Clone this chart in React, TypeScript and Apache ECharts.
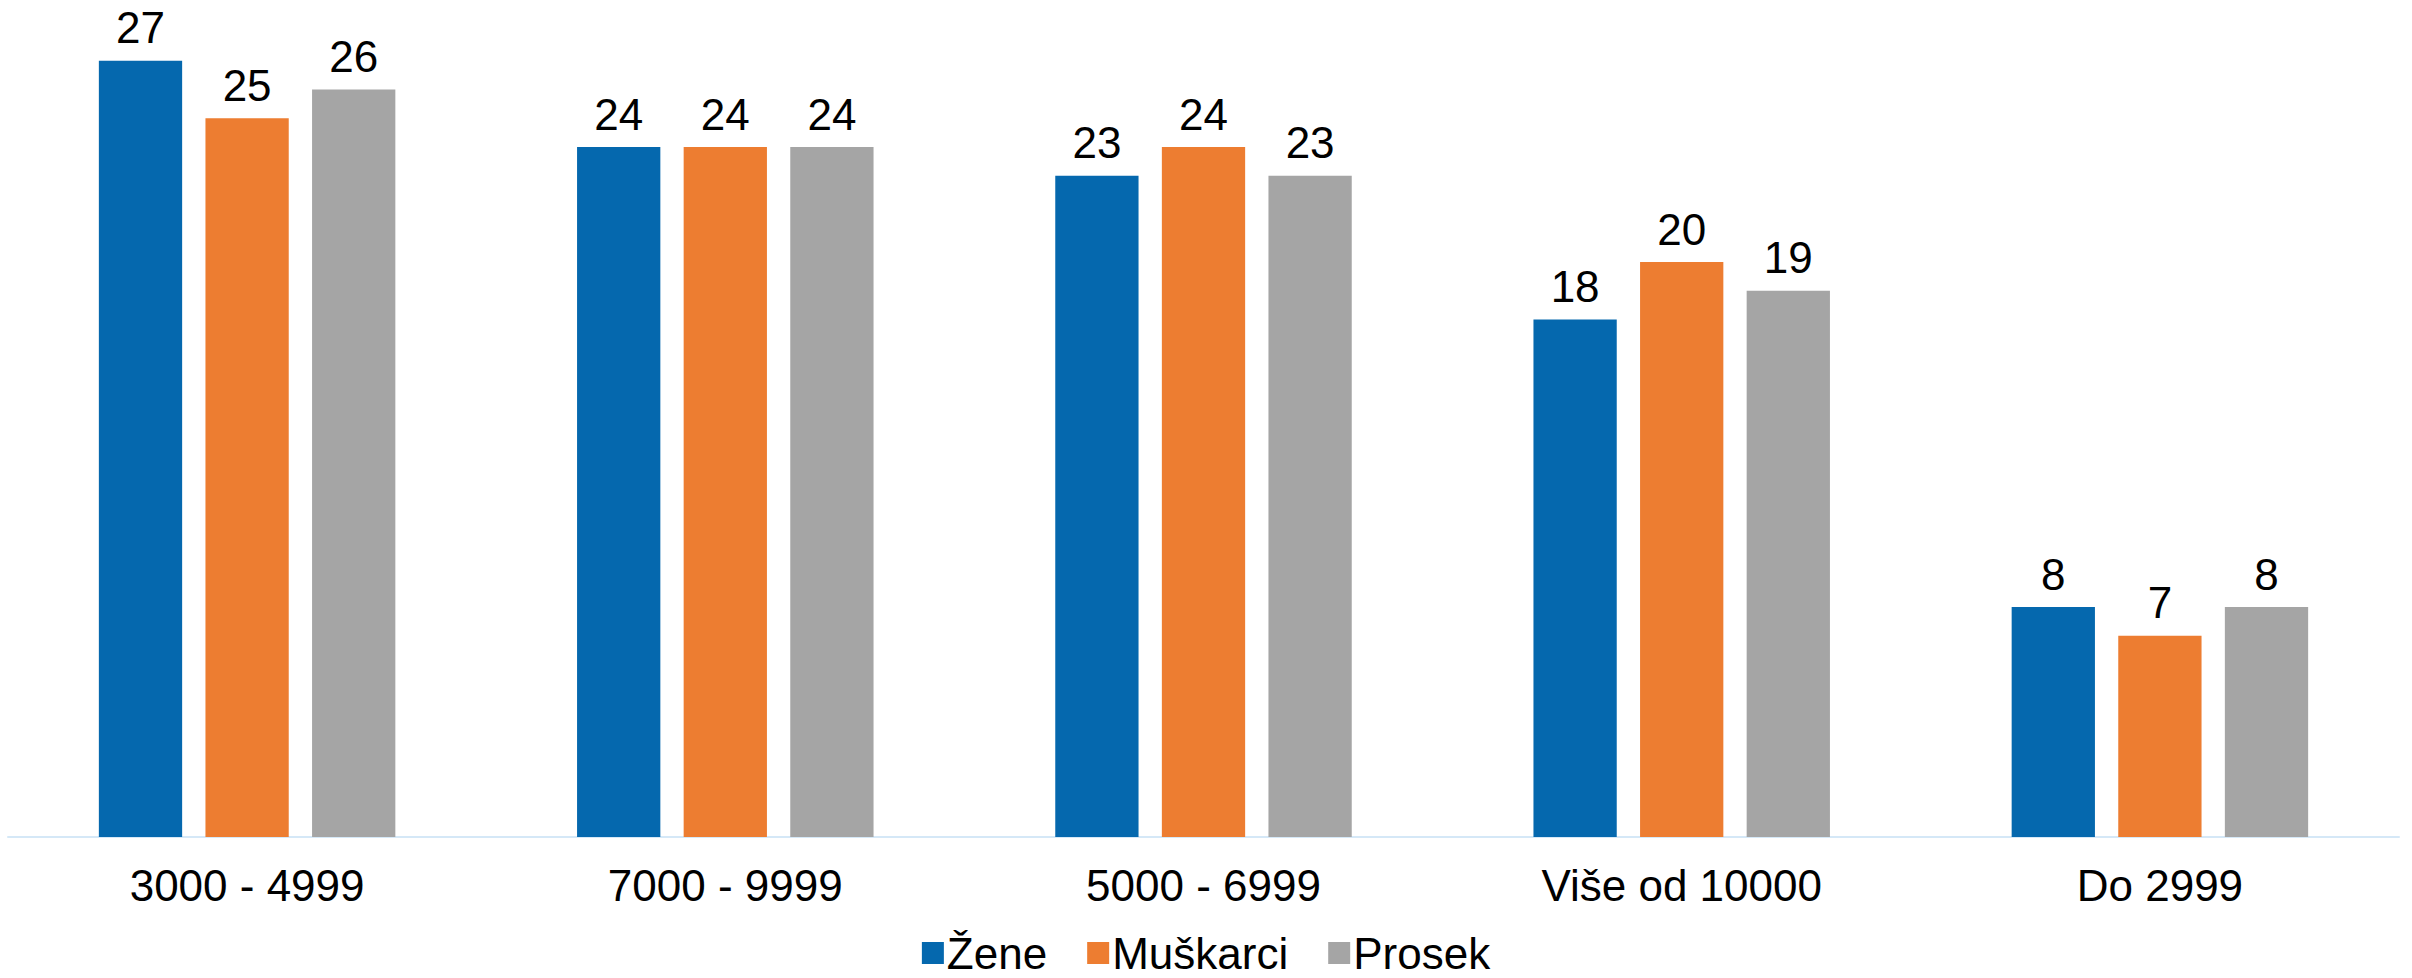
import React, { useEffect, useRef } from "react";
import * as echarts from "echarts";

const categories = ["3000 - 4999", "7000 - 9999", "5000 - 6999", "Više od 10000", "Do 2999"];
const zene = [27, 24, 23, 18, 8];
const muskarci = [25, 24, 24, 20, 7];
const prosek = [26, 24, 23, 19, 8];
const seriesNames = ["Žene", "Muškarci", "Prosek"];
const colors = ["#0568AE", "#ED7D31", "#A5A5A5"];

export default function App() {
  const ref = useRef<HTMLDivElement>(null);
  useEffect(() => {
    if (!ref.current) return;
    const chart = echarts.init(ref.current, null, { renderer: "svg" });
    const font = "Liberation Sans, Arial, sans-serif";
    const mk = (name: string, data: number[], color: string) => ({
      name,
      type: "bar",
      data,
      barGap: "28%",
      barCategoryGap: "38%",
      itemStyle: { color },
      label: {
        show: true,
        position: "top",
        distance: 11,
        color: "#000",
        fontSize: 44,
        fontFamily: font,
      },
    });
    chart.setOption({
      animation: false,
      color: colors,
      grid: { left: 8, right: 13, top: 32, bottom: 141, containLabel: false },
      legend: {
        data: seriesNames,
        bottom: -2,
        left: "center",
        itemWidth: 22,
        itemHeight: 22,
        itemGap: 40,
        icon: "rect",
        textStyle: { fontSize: 44, fontFamily: font, color: "#000", padding: [0, 0, 0, -2] },
      },
      xAxis: {
        type: "category",
        data: categories,
        axisLine: { show: true, lineStyle: { color: "#D5E8F7", width: 2 } },
        axisTick: { show: false },
        axisLabel: { fontSize: 44, fontFamily: font, color: "#000", margin: 26 },
      },
      yAxis: {
        type: "value",
        min: 0,
        max: 28,
        show: false,
        splitLine: { show: false },
      },
      series: [
        mk(seriesNames[0], zene, colors[0]),
        mk(seriesNames[1], muskarci, colors[1]),
        mk(seriesNames[2], prosek, colors[2]),
      ],
    });
    return () => chart.dispose();
  }, []);
  return (
    <div
      ref={ref}
      style={{ position: "fixed", left: 0, top: 0, width: 2412, height: 978, background: "#fff" }}
    />
  );
}
